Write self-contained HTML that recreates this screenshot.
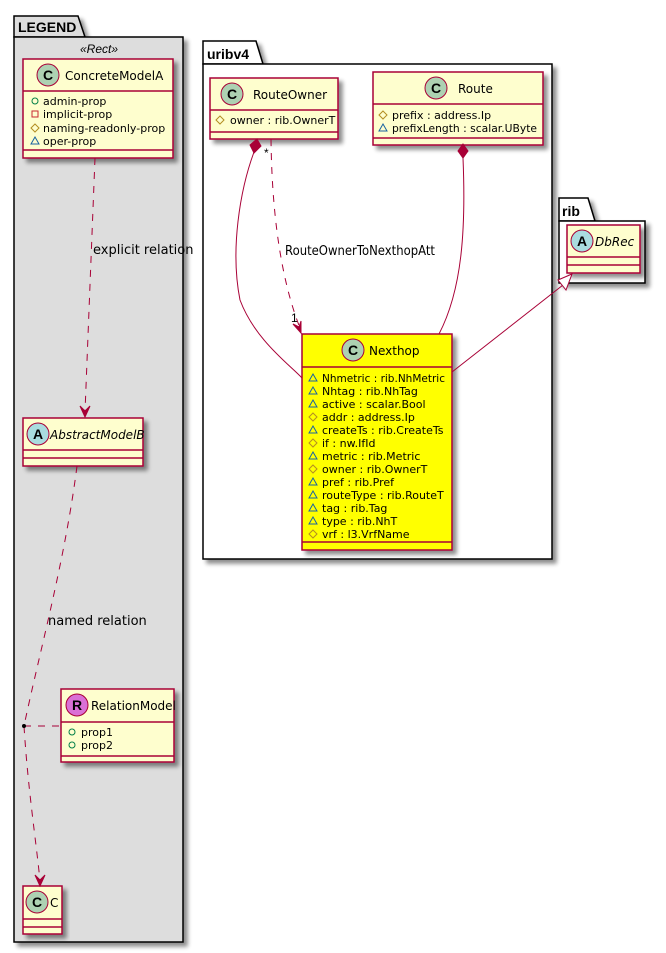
<!DOCTYPE html>
<html><head><meta charset="utf-8"><style>
html,body{margin:0;padding:0;background:#fff;}
svg{display:block;font-family:"DejaVu Sans","Liberation Sans",sans-serif;}
.pk{font-family:"Liberation Sans",sans-serif;}
</style></head><body>
<svg width="666" height="953" viewBox="0 0 666 953" xmlns="http://www.w3.org/2000/svg">
<defs>
<filter id="sh" x="-10%" y="-10%" width="130%" height="130%"><feGaussianBlur in="SourceAlpha" stdDeviation="2"/><feOffset dx="4" dy="4"/><feComponentTransfer><feFuncA type="linear" slope="0.45"/></feComponentTransfer><feMerge><feMergeNode/><feMergeNode in="SourceGraphic"/></feMerge></filter>
</defs>

<!-- LEGEND package -->
<g filter="url(#sh)">
<path d="M14,37 L14,16 L78,16 L85,37 Z" fill="#DDDDDD" stroke="#000" stroke-width="1.5"/>
<rect x="14" y="37" width="169" height="905" fill="#DDDDDD" stroke="#000" stroke-width="1.5"/>
</g>
<text class="pk" x="18" y="32" font-size="14" font-weight="bold">LEGEND</text>
<text class="pk" x="99" y="53" font-size="12" font-style="italic" text-anchor="middle">«Rect»</text>

<!-- uribv4 package -->
<g filter="url(#sh)">
<path d="M203,64 L203,41 L256,41 L263,64 Z" fill="#fff" stroke="#000" stroke-width="1.5"/>
<rect x="203" y="64" width="349" height="495" fill="#fff" stroke="#000" stroke-width="1.5"/>
</g>
<text class="pk" x="207" y="59" font-size="14" font-weight="bold">uribv4</text>

<!-- rib package -->
<g filter="url(#sh)">
<path d="M559,221 L559,198 L588,198 L595,221 Z" fill="#fff" stroke="#000" stroke-width="1.5"/>
<rect x="559" y="221" width="86" height="62" fill="#fff" stroke="#000" stroke-width="1.5"/>
</g>
<text class="pk" x="562" y="216" font-size="14" font-weight="bold">rib</text>

<!-- ConcreteModelA -->
<g filter="url(#sh)"><rect x="23" y="59" width="150" height="99" fill="#FEFECE" stroke="#A80036" stroke-width="1.5"/></g>
<line x1="23" y1="91" x2="173" y2="91" stroke="#A80036" stroke-width="1.5"/>
<line x1="23" y1="150" x2="173" y2="150" stroke="#A80036" stroke-width="1.5"/>
<circle cx="48" cy="75" r="11" fill="#ADD1B2" stroke="#A80036"/>
<text class="pk" x="48" y="80" font-size="14" font-weight="bold" text-anchor="middle">C</text>
<text x="65" y="80" font-size="12">ConcreteModelA</text>
<g font-size="11">
<circle cx="35" cy="101" r="3" fill="none" stroke="#038048"/>
<text x="43" y="105">admin-prop</text>
<rect x="32" y="111" width="6" height="6" fill="none" stroke="#C82930"/>
<text x="43" y="118">implicit-prop</text>
<path d="M35,124 L39,128 L35,132 L31,128 Z" fill="none" stroke="#B38D22"/>
<text x="43" y="132">naming-readonly-prop</text>
<path d="M31,144 L35,137 L39,144 Z" fill="none" stroke="#1963A0"/>
<text x="43" y="145">oper-prop</text>
</g>

<!-- AbstractModelB -->
<g filter="url(#sh)"><rect x="23" y="418" width="120" height="48" fill="#FEFECE" stroke="#A80036" stroke-width="1.5"/></g>
<line x1="23" y1="450" x2="143" y2="450" stroke="#A80036" stroke-width="1.5"/>
<line x1="23" y1="458" x2="143" y2="458" stroke="#A80036" stroke-width="1.5"/>
<circle cx="38" cy="434" r="11" fill="#A9DCDF" stroke="#A80036"/>
<text class="pk" x="38" y="439" font-size="14" font-weight="bold" text-anchor="middle">A</text>
<text x="50" y="439" font-size="12" font-style="italic">AbstractModelB</text>

<!-- RelationModel -->
<g filter="url(#sh)"><rect x="61" y="689" width="113" height="73" fill="#FEFECE" stroke="#A80036" stroke-width="1.5"/></g>
<line x1="61" y1="722" x2="174" y2="722" stroke="#A80036" stroke-width="1.5"/>
<line x1="61" y1="756" x2="174" y2="756" stroke="#A80036" stroke-width="1.5"/>
<circle cx="77" cy="705" r="11" fill="#DA70D6" stroke="#A80036"/>
<text class="pk" x="77" y="710" font-size="14" font-weight="bold" text-anchor="middle">R</text>
<text x="91" y="710" font-size="12">RelationModel</text>
<g font-size="11">
<circle cx="72" cy="732" r="3" fill="none" stroke="#038048"/><text x="81" y="736">prop1</text>
<circle cx="72" cy="745" r="3" fill="none" stroke="#038048"/><text x="81" y="749">prop2</text>
</g>

<!-- C -->
<g filter="url(#sh)"><rect x="23" y="886" width="39" height="48" fill="#FEFECE" stroke="#A80036" stroke-width="1.5"/></g>
<line x1="23" y1="919" x2="62" y2="919" stroke="#A80036" stroke-width="1.5"/>
<line x1="23" y1="927" x2="62" y2="927" stroke="#A80036" stroke-width="1.5"/>
<circle cx="37" cy="902" r="11" fill="#ADD1B2" stroke="#A80036"/>
<text class="pk" x="37" y="907" font-size="14" font-weight="bold" text-anchor="middle">C</text>
<text x="50" y="907" font-size="12">C</text>

<!-- RouteOwner -->
<g filter="url(#sh)"><rect x="210" y="78" width="128" height="61" fill="#FEFECE" stroke="#A80036" stroke-width="1.5"/></g>
<line x1="210" y1="110" x2="338" y2="110" stroke="#A80036" stroke-width="1.5"/>
<line x1="210" y1="132" x2="338" y2="132" stroke="#A80036" stroke-width="1.5"/>
<circle cx="232" cy="94" r="11" fill="#ADD1B2" stroke="#A80036"/>
<text class="pk" x="232" y="99" font-size="14" font-weight="bold" text-anchor="middle">C</text>
<text x="253" y="99" font-size="12">RouteOwner</text>
<path d="M220,116 L224,120 L220,124 L216,120 Z" fill="none" stroke="#B38D22"/>
<text x="230" y="124" font-size="11">owner : rib.OwnerT</text>

<!-- Route -->
<g filter="url(#sh)"><rect x="373" y="72" width="170" height="73" fill="#FEFECE" stroke="#A80036" stroke-width="1.5"/></g>
<line x1="373" y1="104" x2="543" y2="104" stroke="#A80036" stroke-width="1.5"/>
<line x1="373" y1="138" x2="543" y2="138" stroke="#A80036" stroke-width="1.5"/>
<circle cx="436" cy="88" r="11" fill="#ADD1B2" stroke="#A80036"/>
<text class="pk" x="436" y="93" font-size="14" font-weight="bold" text-anchor="middle">C</text>
<text x="458" y="93" font-size="12">Route</text>
<g font-size="11">
<path d="M383,111 L387,115 L383,119 L379,115 Z" fill="none" stroke="#B38D22"/>
<text x="392" y="119">prefix : address.Ip</text>
<path d="M379,131 L383,124 L387,131 Z" fill="none" stroke="#1963A0"/>
<text x="392" y="132" textLength="145" lengthAdjust="spacingAndGlyphs">prefixLength : scalar.UByte</text>
</g>

<!-- Nexthop -->
<g filter="url(#sh)"><rect x="302" y="334" width="150" height="216" fill="#FFFF00" stroke="#A80036" stroke-width="1.5"/></g>
<line x1="302" y1="367" x2="452" y2="367" stroke="#A80036" stroke-width="1.5"/>
<line x1="302" y1="542" x2="452" y2="542" stroke="#A80036" stroke-width="1.5"/>
<circle cx="353" cy="350" r="11" fill="#ADD1B2" stroke="#A80036"/>
<text class="pk" x="353" y="355" font-size="14" font-weight="bold" text-anchor="middle">C</text>
<text x="369" y="355" font-size="12">Nexthop</text>
<g font-size="11">
<path d="M309,381 L313,374 L317,381 Z" fill="none" stroke="#1963A0"/><text x="322" y="382" textLength="123" lengthAdjust="spacingAndGlyphs">Nhmetric : rib.NhMetric</text>
<path d="M309,394 L313,387 L317,394 Z" fill="none" stroke="#1963A0"/><text x="322" y="395">Nhtag : rib.NhTag</text>
<path d="M309,407 L313,400 L317,407 Z" fill="none" stroke="#1963A0"/><text x="322" y="408">active : scalar.Bool</text>
<path d="M313,413 L317,417 L313,421 L309,417 Z" fill="none" stroke="#B38D22"/><text x="322" y="421">addr : address.Ip</text>
<path d="M309,433 L313,426 L317,433 Z" fill="none" stroke="#1963A0"/><text x="322" y="434">createTs : rib.CreateTs</text>
<path d="M313,439 L317,443 L313,447 L309,443 Z" fill="none" stroke="#B38D22"/><text x="322" y="447">if : nw.IfId</text>
<path d="M309,459 L313,452 L317,459 Z" fill="none" stroke="#1963A0"/><text x="322" y="460">metric : rib.Metric</text>
<path d="M313,465 L317,469 L313,473 L309,469 Z" fill="none" stroke="#B38D22"/><text x="322" y="473">owner : rib.OwnerT</text>
<path d="M309,485 L313,478 L317,485 Z" fill="none" stroke="#1963A0"/><text x="322" y="486">pref : rib.Pref</text>
<path d="M309,498 L313,491 L317,498 Z" fill="none" stroke="#1963A0"/><text x="322" y="499">routeType : rib.RouteT</text>
<path d="M309,511 L313,504 L317,511 Z" fill="none" stroke="#1963A0"/><text x="322" y="512">tag : rib.Tag</text>
<path d="M309,524 L313,517 L317,524 Z" fill="none" stroke="#1963A0"/><text x="322" y="525">type : rib.NhT</text>
<path d="M313,530 L317,534 L313,538 L309,534 Z" fill="none" stroke="#B38D22"/><text x="322" y="538">vrf : l3.VrfName</text>
</g>

<!-- DbRec -->
<g filter="url(#sh)"><rect x="567" y="225" width="73" height="48" fill="#FEFECE" stroke="#A80036" stroke-width="1.5"/></g>
<line x1="567" y1="257" x2="640" y2="257" stroke="#A80036" stroke-width="1.5"/>
<line x1="567" y1="265" x2="640" y2="265" stroke="#A80036" stroke-width="1.5"/>
<circle cx="582" cy="241" r="11" fill="#A9DCDF" stroke="#A80036"/>
<text class="pk" x="582" y="246" font-size="14" font-weight="bold" text-anchor="middle">A</text>
<text x="595" y="246" font-size="12" font-style="italic">DbRec</text>

<!-- connectors -->
<g fill="none" stroke="#A80036" stroke-width="1">
<path d="M95,158 L85,412" stroke-dasharray="7,7"/>
<path d="M77,466 C65,560 40,650 24,726" stroke-dasharray="7,7"/>
<path d="M24,726 L61,726" stroke-dasharray="7,7"/>
<path d="M24,726 C28,790 36,840 40,881" stroke-dasharray="7,7"/>
<path d="M271,139 C272,230 285,290 300,328" stroke-dasharray="7,7"/>
<path d="M254,152 C240,190 230,250 240,300 C255,340 290,365 302,378"/>
<path d="M463,158 C466,230 462,290 439,334"/>
<path d="M452,372 L563,285"/>
</g>
<g fill="#A80036" stroke="#A80036">
<path d="M85,417 L80,406 L85,411 L90,406 Z"/>
<path d="M40,886 L35,875 L40,880 L45,875 Z"/>
<path d="M301,333 L293,324 L299,327 L301,321 Z"/>
<path d="M257,139 L261,146 L254,153 L250,145 Z"/>
<path d="M463,144 L468,151 L463,158 L458,151 Z"/>
</g>
<circle cx="24" cy="726" r="2" fill="#000"/>
<path d="M572,274 L558,280 L566,290 Z" fill="#fff" stroke="#A80036"/>

<!-- labels -->
<g font-size="13" fill="#000">
<text x="93" y="254">explicit relation</text>
<text x="48" y="625">named relation</text>
<text x="285" y="255" textLength="150" lengthAdjust="spacingAndGlyphs">RouteOwnerToNexthopAtt</text>
</g>
<text class="pk" x="264" y="157" font-size="12">*</text>
<text class="pk" x="291" y="322" font-size="12">1</text>
</svg>
</body></html>
